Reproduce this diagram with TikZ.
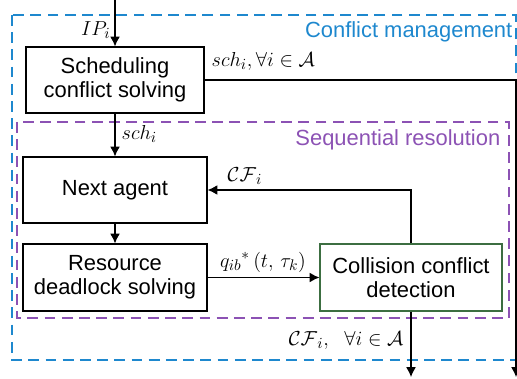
\documentclass[tikz,border=0pt]{standalone}
\usepackage{fontspec}
\setmainfont{Liberation Sans}
\usetikzlibrary{arrows,arrows.meta}
\definecolor{cmblue}{RGB}{30,136,206}
\definecolor{srpurple}{RGB}{140,82,180}
\definecolor{ccgreen}{RGB}{60,110,65}
\tikzset{%
	block/.style    = {draw, thick, rectangle, align=center, minimum height = 1.65cm,
		minimum width = 4.6cm},
	frame/.style    = {thick, dash pattern=on 0.27cm off 0.16cm}, % dashed box
	lbl/.style      = {inner sep=1pt}, % label
	output/.style   = {coordinate} % Output
}

\begin{document}
\begin{tikzpicture}[x=0.025cm,y=-0.025cm,font=\fontsize{15.6}{16.8}\selectfont,
	>={Latex[length=7pt,width=7pt]}]
			\useasboundingbox (0,0) rectangle (517,379);
			% frames
			\draw[frame,cmblue] (12,15) rectangle (516,360);
			\draw[frame,srpurple] (17,122) rectangle (509,318);
			\node[text=cmblue,anchor=east,lbl] (cmtxt) at (514,32) {Conflict management};
			\node[text=srpurple,anchor=east,lbl] (srtxt) at (502,140) {Sequential resolution};

			% blocks
			\node[block,minimum width=4.45cm] (sched) at (115,80) {Scheduling\\conflict solving} ;
			\node[block] (next) at (115,190) {Next agent} ;
			\node[block,minimum height=1.675cm] (res) at (115,277.5) {Resource\\deadlock solving} ;
			\node[block,draw=ccgreen,minimum width=4.55cm,minimum height=1.675cm] (coll) at (411,277.5) {Collision conflict\\detection} ;

			\coordinate (in) at (115,0);
			\node[output] (out1) at (516,377) {};
			\node[output] (out2) at (411,377) {};

			\draw[thick,->] (in) -- (sched);
			\draw[thick,->] (sched.east) -| (out1);
			\draw[thick,->] (sched) -- (next);
			\draw[thick,->] (next) -- (res);
			\draw[thick,->] (res) -- (coll);
			\draw[thick,->] (coll.north) |- (next.east);
			\draw[thick,->] (coll) -- (out2);

			% labels
			\node[lbl,anchor=east] (ip) at (112,30) {$IP_i$};
			\node[lbl,anchor=west] (schall) at (210,61) {$sch_i, \forall i \in \mathcal{A}$};
			\node[lbl,anchor=west] (sch) at (120,134) {$sch_i$};
			\node[lbl,anchor=west] (cf) at (226,176) {$\mathcal{CF}_i$};
			\node[lbl,anchor=south] (q) at (263,274) {$q_{ib}{}^{*}\,(t,\, \tau_k)$};
			\node[lbl,anchor=east] (cfall) at (405,340) {$\mathcal{CF}_i,\ \ \forall i \in \mathcal{A}$};
		\end{tikzpicture}
\end{document}
